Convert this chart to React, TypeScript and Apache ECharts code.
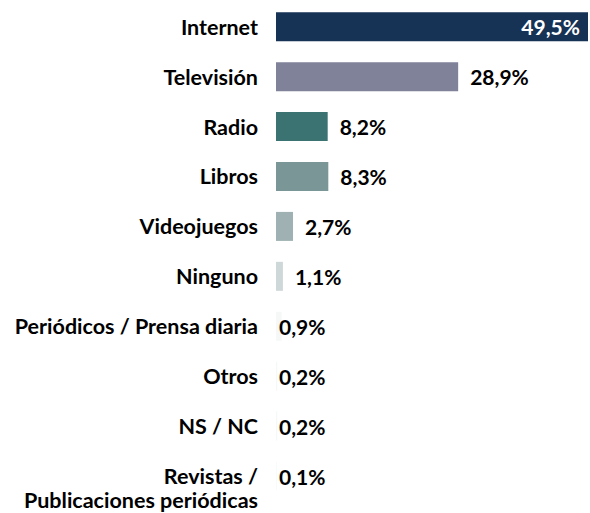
import React, { useEffect, useRef } from "react";
import * as echarts from "echarts";

const categories = [
  "Internet",
  "Televisión",
  "Radio",
  "Libros",
  "Videojuegos",
  "Ninguno",
  "Periódicos / Prensa diaria",
  "Otros",
  "NS / NC",
  "\nRevistas /\nPublicaciones periódicas",
];
const values = [49.5, 28.9, 8.2, 8.3, 2.7, 1.1, 0.9, 0.2, 0.2, 0.1];
const colors = [
  "#163254",
  "#7f8299",
  "#3b7272",
  "#7b9696",
  "#9fb1b3",
  "#cfd8d9",
  "#f6f8f8",
  "#f6f8f8",
  "#f6f8f8",
  "#f6f8f8",
];

const fmt = (v: number) => v.toFixed(1).replace(".", ",") + "%";

export default function App() {
  const ref = useRef<HTMLDivElement>(null);
  useEffect(() => {
    document.body.style.margin = "0";
    const chart = echarts.init(ref.current!, undefined, { renderer: "svg" });
    chart.setOption({
      animation: false,
      grid: { left: 276, right: 2, top: 1.75, bottom: 6.25, containLabel: false },
      xAxis: {
        type: "value",
        min: 0,
        max: 49.5,
        show: false,
      },
      yAxis: {
        type: "category",
        inverse: true,
        data: categories,
        axisLine: { show: false },
        axisTick: { show: false },
        axisLabel: {
          margin: 18,
          interval: 0,
          showMinLabel: true,
          showMaxLabel: true,
          color: "#000",
          fontFamily: "Lato",
          fontWeight: "bold",
          fontSize: 21.5,
          lineHeight: 23.5,
          align: "right",
          padding: [0, 0, 4, 0],
        },
      },
      series: [
        {
          type: "bar",
          barWidth: 29,
          data: values.map((v, i) => ({
            value: v,
            itemStyle: { color: colors[i] },
            label:
              i === 0
                ? { position: "insideRight", color: "#fff", distance: 8 }
                : i >= 6
                ? { position: "insideLeft", color: "#000", distance: 3 }
                : { position: "right", color: "#000", distance: 12 },
          })),
          label: {
            show: true,
            fontFamily: "Lato",
            fontWeight: "bold",
            fontSize: 21,
            formatter: (p: any) => fmt(p.value),
          },
        },
      ],
    });
    return () => chart.dispose();
  }, []);
  return <div ref={ref} style={{ width: 590, height: 513 }} />;
}
